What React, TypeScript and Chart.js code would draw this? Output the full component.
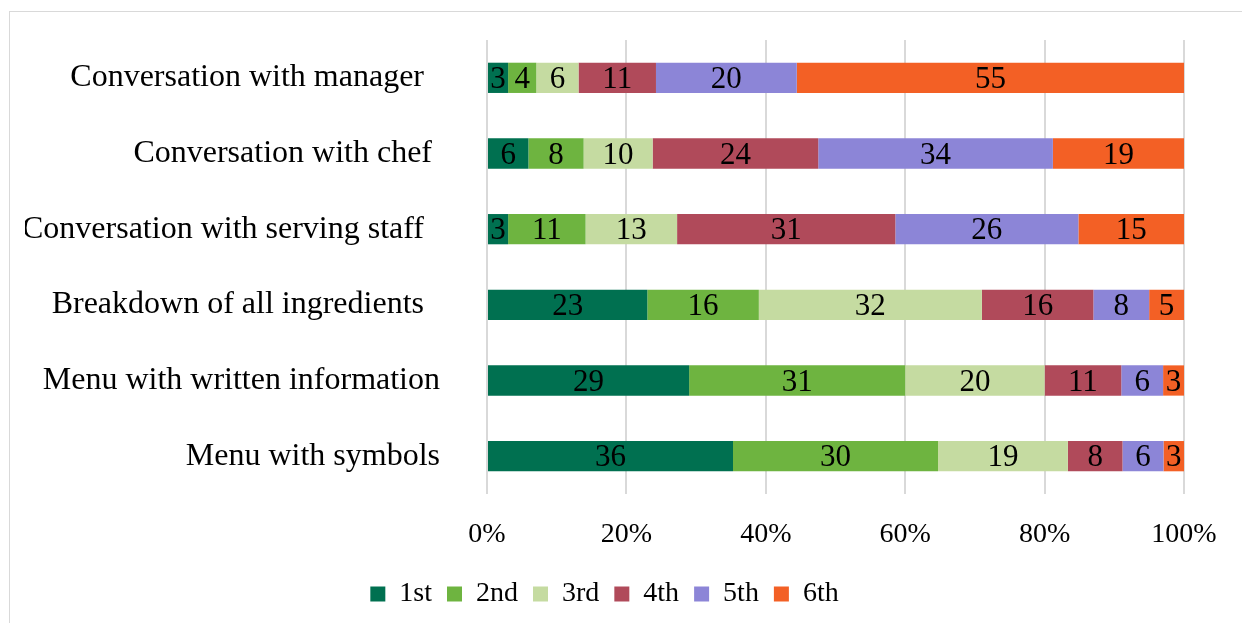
import React, { useEffect, useRef } from "react";
import { Chart, registerables } from "chart.js";

Chart.register(...registerables);

const categories = [
  "Conversation with manager  ",
  "Conversation with chef ",
  "Conversation with serving staff  ",
  "Breakdown of all ingredients  ",
  "Menu with written information",
  "Menu with symbols",
];

const seriesNames = ["1st", "2nd", "3rd", "4th", "5th", "6th"];
const first = [3, 6, 3, 23, 29, 36];
const second = [4, 8, 11, 16, 31, 30];
const third = [6, 10, 13, 32, 20, 19];
const fourth = [11, 24, 31, 16, 11, 8];
const fifth = [20, 34, 26, 8, 6, 6];
const sixth = [55, 19, 15, 5, 3, 3];
const seriesColors = ["#007050", "#6EB440", "#C5DBA1", "#B04A5A", "#8C85D7", "#F36025"];
const xTicks = [0, 20, 40, 60, 80, 100];

const FONT = "'Liberation Serif', 'Times New Roman', serif";

export default function App() {
  const ref = useRef<HTMLCanvasElement | null>(null);

  useEffect(() => {
    const counts = [first, second, third, fourth, fifth, sixth];
    const totals = categories.map((_, i) => counts.reduce((s, arr) => s + arr[i], 0));
    const datasets = counts.map((arr, k) => ({
      label: seriesNames[k],
      data: arr.map((v, i) => (v / totals[i]) * 100),
      counts: arr,
      backgroundColor: seriesColors[k],
      borderWidth: 0,
      barPercentage: 0.4,
      categoryPercentage: 1,
    }));

    const labelPlugin = {
      id: "segLabels",
      afterDatasetsDraw(chart: any) {
        const ctx = chart.ctx;
        ctx.save();
        ctx.font = `31px ${FONT}`;
        ctx.fillStyle = "#000";
        ctx.textAlign = "center";
        ctx.textBaseline = "middle";
        chart.data.datasets.forEach((ds: any, di: number) => {
          const meta = chart.getDatasetMeta(di);
          meta.data.forEach((bar: any, i: number) => {
            const cx = (bar.x + bar.base) / 2;
            ctx.fillText(String(ds.counts[i]), cx, bar.y + 2);
          });
        });
        ctx.restore();
      },
    };

    const chart = new Chart(ref.current as HTMLCanvasElement, {
      type: "bar",
      data: { labels: categories, datasets: datasets as any },
      plugins: [labelPlugin],
      options: {
        indexAxis: "y",
        animation: false,
        responsive: false,
        maintainAspectRatio: false,
        layout: { padding: { top: 40, left: 25, right: 58, bottom: 5 } },
        plugins: {
          legend: {
            position: "bottom",
            labels: {
              font: { family: FONT, size: 28 },
              color: "#000",
              boxWidth: 15,
              boxHeight: 15,
              padding: 15,
            },
          },
          tooltip: { enabled: false },
        },
        scales: {
          x: {
            stacked: true,
            min: 0,
            max: 100,
            afterBuildTicks(scale: any) {
              scale.ticks = xTicks.map((v) => ({ value: v }));
            },
            afterFit(scale: any) {
              scale.height = 71;
            },
            ticks: {
              font: { family: FONT, size: 28 },
              color: "#000",
              padding: 24,
              callback: (v: any) => `${v}%`,
            },
            grid: { color: "#d9d9d9", lineWidth: 2, drawTicks: false },
            border: { display: false },
          },
          y: {
            stacked: true,
            afterFit(scale: any) {
              scale.width = 487 - 25;
              scale.paddingTop = 0;
              scale.paddingBottom = 0;
            },
            ticks: {
              font: { family: FONT, size: 32 },
              color: "#000",
              padding: 47,
            },
            grid: { display: false, drawTicks: false },
            border: { display: false },
          },
        },
      },
    });
    return () => chart.destroy();
  }, []);

  return (
    <div style={{ position: "fixed", left: 0, top: 0, width: 1242, height: 623, background: "#fff", overflow: "hidden" }}>
      <div
        style={{
          position: "absolute",
          left: 9,
          top: 11,
          width: 1260,
          height: 640,
          border: "1px solid #d9d9d9",
          boxSizing: "border-box",
        }}
      />
      <canvas ref={ref} width={1242} height={623} style={{ position: "absolute", left: 0, top: 0 }} />
    </div>
  );
}
